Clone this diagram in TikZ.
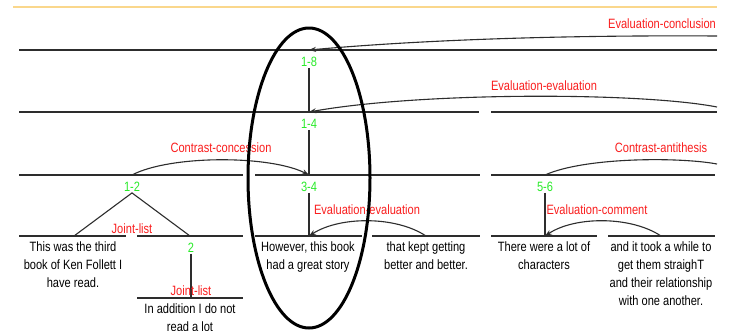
\documentclass[tikz,border=0pt]{standalone}
\usepackage{fontspec}
\setmainfont{Liberation Sans}[FakeStretch=0.82]
\usetikzlibrary{arrows.meta}
\definecolor{spangreen}{RGB}{40,235,40}
\definecolor{relred}{RGB}{250,30,30}
\definecolor{linegray}{RGB}{45,45,45}
\definecolor{topline}{RGB}{250,215,140}
\tikzset{
  seg/.style={draw=linegray, line width=1.3pt},
  arcl/.style={draw=linegray, line width=1.1pt},
  arrarc/.style={arcl, -{Stealth[length=7pt,width=5pt]}},
  span/.style={text=spangreen, font=\fontsize{13.5}{15}\selectfont, inner sep=1pt},
  rel/.style={text=relred, font=\fontsize{13.5}{15}\selectfont, inner sep=1pt},
  txt/.style={align=center, font=\fontsize{13.5}{18}\selectfont, inner sep=0pt, anchor=north},
}
\begin{document}
\begin{tikzpicture}[x=1pt,y=-1pt]
\useasboundingbox (0,0) rectangle (729,330);
\clip (0,0) rectangle (729,330);
\fill[white] (0,0) rectangle (729,330);
\draw[topline, line width=1.5pt] (13,7) -- (717,7);

% horizontal lines
\coordinate (l1a) at (19,50);  \coordinate (l1b) at (717,50);
\draw[seg] (l1a) -- (l1b);
\coordinate (l2a) at (19,112); \coordinate (l2b) at (479,112);
\coordinate (l2c) at (491,112); \coordinate (l2d) at (717,112);
\draw[seg] (l2a) -- (l2b); \draw[seg] (l2c) -- (l2d);
\coordinate (l3a) at (19,175); \coordinate (l3b) at (243,175);
\coordinate (l3c) at (255,175); \coordinate (l3d) at (480,175);
\coordinate (l3e) at (491,175); \coordinate (l3f) at (715,175);
\draw[seg] (l3a) -- (l3b); \draw[seg] (l3c) -- (l3d); \draw[seg] (l3e) -- (l3f);
\foreach \a/\b [count=\i] in {19/126,137/243,255/362,372/480,491/597,608/715}{
  \draw[seg] (\a,236) coordinate (s\i a) -- (\b,236) coordinate (s\i b);
}
\draw[seg] (137,298) coordinate (s7a) -- (243,298) coordinate (s7b);

% span labels
\node[span] (n18) at (309,62) {1-8};
\node[span] (n14) at (309,124) {1-4};
\node[span] (n34) at (309,187) {3-4};
\node[span] (n12) at (132,187) {1-2};
\node[span] (n2) at (191,248) {2};
\node[span] (n56) at (545,187) {5-6};

\coordinate (p18) at (309,112);
\coordinate (p14) at (309,175);
\coordinate (p34) at (309,236);
\coordinate (p2) at (191,298);
\coordinate (p56) at (545,236);
\coordinate (p12l) at (74,236);
\coordinate (p12r) at (190,236);
\coordinate (p1) at (309,50);
\draw[arcl] (n18.south) -- (p18);
\draw[arcl] (n14.south) -- (p14);
\draw[arcl] (n34.south) -- (p34);
\draw[arcl] (n2.south) -- (p2);
\draw[arcl] (n56.south) -- (p56);
\draw[arcl] (p12l) -- (n12.south) -- (p12r);

% text
\node[txt] (t1) at (73,242) {This was the third\\book of Ken Follett I\\have read.};
\node[txt] (t2) at (190,304) {In addition I do not\\read a lot};
\node[txt] (t3) at (308,242) {However, this book\\had a great story};
\node[txt] (t4) at (426,242) {that kept getting\\better and better.};
\node[txt] (t5) at (544,242) {There were a lot of\\characters};
\node[txt] (t6) at (661,242) {and it took a while to\\get them straighT\\and their relationship\\with one another.};

% relation labels
\node[rel] (r1) at (662,24) {Evaluation-conclusion};
\node[rel] (r2) at (544,86) {Evaluation-evaluation};
\node[rel] (r3) at (221,148) {Contrast-concession};
\node[rel] (r4) at (661,148) {Contrast-antithesis};
\node[rel] (r5) at (367,210) {Evaluation-evaluation};
\node[rel] (r6) at (597,210) {Evaluation-comment};
\node[rel] (r7) at (132,229) {Joint-list};
\node[rel] (r8) at (191,291) {Joint-list};

% arcs
\coordinate (ec) at (717,36);
\coordinate (ee) at (717,107);
\coordinate (ca) at (717,164);
\coordinate (t4top) at (426,236);
\coordinate (t6top) at (661,236);
\coordinate (c12) at (132,175);
\coordinate (c56) at (545,175);
\draw[arrarc] (ec) .. controls (560,35) and (420,40) .. (p1);
\draw[arrarc] (ee) .. controls (640,92) and (420,92) .. (p18);
\draw[arrarc] (c12) .. controls (170,155) and (270,155) .. (p14);
\draw[arcl] (c56) .. controls (585,157) and (680,157) .. (ca);
\draw[arrarc] (t4top) .. controls (396,216) and (340,216) .. (p34);
\draw[arrarc] (t6top) .. controls (631,216) and (575,216) .. (p56);

% big ellipse
\coordinate (ellc) at (309,178);
\draw[black, line width=3pt] (ellc) ellipse [x radius=61pt, y radius=150pt];
\end{tikzpicture}
\end{document}
